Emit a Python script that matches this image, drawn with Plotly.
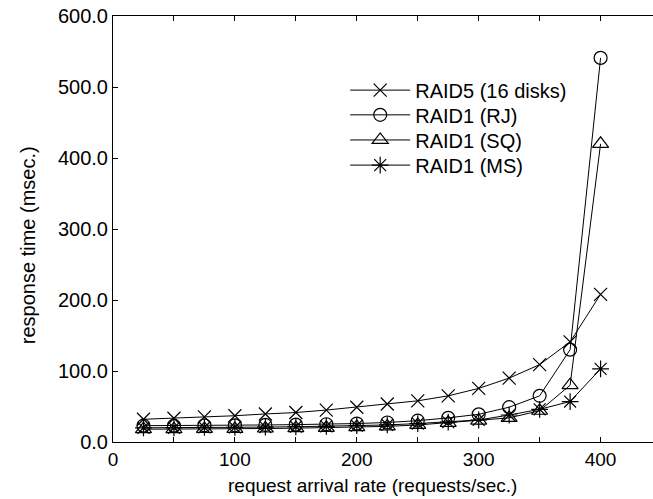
import plotly.graph_objects as go

rate = [25, 50, 75, 100, 125, 150, 175, 200, 225, 250, 275, 300, 325, 350, 375, 400]
raid5 = [32, 33.5, 35.5, 37, 39.5, 41.5, 45, 49, 53.5, 58, 65, 75.5, 90, 109, 141, 208]
raid1_rj = [23, 23, 23.5, 23.5, 24, 24.5, 25, 26, 27.5, 30, 34, 39, 49, 65, 130, 541]
raid1_sq = [18, 18, 18.5, 18.5, 19, 19.5, 20, 21, 22, 24, 27, 30, 34, 44, 80, 420]
raid1_ms = [20, 20, 20.5, 20.5, 21, 21.5, 22, 23, 24, 26, 28, 31, 38, 46, 57, 103]

names = ["RAID5 (16 disks)", "RAID1 (RJ)", "RAID1 (SQ)", "RAID1 (MS)"]
series = [raid5, raid1_rj, raid1_sq, raid1_ms]
symbols = ["x-thin-open", "circle-open", "triangle-up-open", "asterisk-open"]
sizes = [13, 13, 14, 14]

x_tickvals = [0, 100, 200, 300, 400]
x_ticktext = ["0", "100", "200", "300", "400"]
y_tickvals = [0, 100, 200, 300, 400, 500, 600]
y_ticktext = ["0.0", "100.0", "200.0", "300.0", "400.0", "500.0", "600.0"]

x_title = "request arrival rate (requests/sec.)"
y_title = "response time (msec.)"

FONT = "Liberation Sans, Arial, Helvetica, sans-serif"
legend_ids = ["legend", "legend2", "legend3", "legend4"]

fig = go.Figure()
for name, ys, sym, sz, lg in zip(names, series, symbols, sizes, legend_ids):
    fig.add_trace(go.Scatter(
        x=rate, y=ys, name=name, mode="lines+markers", legend=lg,
        line=dict(color="black", width=1),
        marker=dict(symbol=sym, size=sz, color="black",
                    line=dict(color="black", width=1.2)),
    ))

legend_style = dict(xanchor="left", yanchor="middle",
                    bgcolor="rgba(0,0,0,0)", borderwidth=0,
                    font=dict(family=FONT, size=20, color="black"),
                    itemwidth=60)
row_y = [0.826, 0.768, 0.709, 0.650]
layout_legends = {}
for lg, yy in zip(legend_ids, row_y):
    layout_legends[lg] = dict(x=0.43, y=yy, **legend_style)

fig.update_layout(
    width=653, height=499,
    margin=dict(l=113, r=0, t=16, b=57),
    paper_bgcolor="white", plot_bgcolor="white",
    font=dict(family=FONT, size=19, color="black"),
    showlegend=True,
    xaxis=dict(
        range=[0, 443], tickmode="array", tickvals=x_tickvals, ticktext=x_ticktext,
        ticks="inside", ticklen=5, tickcolor="black", tickwidth=1,
        minor=dict(dtick=50, tick0=0, ticks="inside", ticklen=5, tickcolor="black"),
        showline=True, linecolor="black", linewidth=1, mirror="ticks",
        showgrid=False, zeroline=False,
        tickfont=dict(family=FONT, size=19),
    ),
    yaxis=dict(
        range=[0, 600], tickmode="array", tickvals=y_tickvals, ticktext=y_ticktext,
        ticks="inside", ticklen=5, tickcolor="black", tickwidth=1,
        showline=True, linecolor="black", linewidth=1, mirror=False,
        showgrid=False, zeroline=False,
        tickfont=dict(family=FONT, size=20),
    ),
    annotations=[
        dict(text=x_title, xref="paper", yref="paper", x=0.48, y=0,
             xanchor="center", yanchor="middle", yshift=-43, showarrow=False,
             font=dict(family=FONT, size=19, color="black")),
        dict(text=y_title, xref="paper", yref="paper", x=0, y=0.462,
             xanchor="center", yanchor="middle", xshift=-85, textangle=-90,
             showarrow=False, font=dict(family=FONT, size=20, color="black")),
    ],
    **layout_legends,
)

fig.write_html("out.html")
